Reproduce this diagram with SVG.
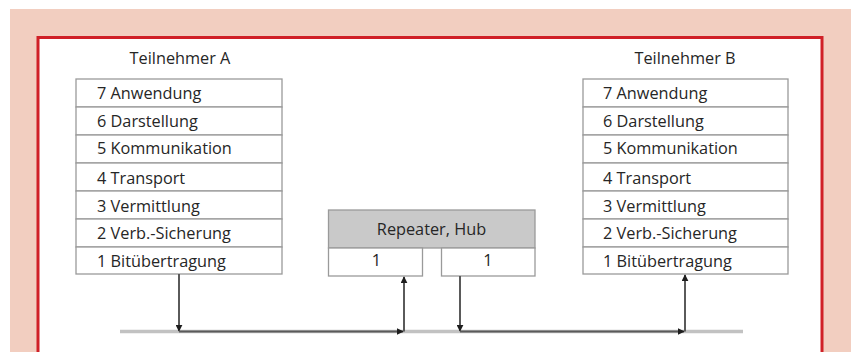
<svg xmlns="http://www.w3.org/2000/svg" width="851" height="352" viewBox="0 0 851 352">
<defs>
<style>
.t{font-family:"Open Sans","Noto Sans","Liberation Sans",sans-serif;font-size:16.3px;fill:#262626}
.c{text-anchor:middle}
.row{fill:#fff;stroke:#9a9a9a;stroke-width:1.3}
.hub{fill:#c9c9c9;stroke:#9a9a9a;stroke-width:1.3}
.bus{stroke:#c2c2c2;stroke-width:3.5;fill:none}
.ln{stroke:#5a5a5a;stroke-width:2;fill:none}
</style>
<marker id="ah" viewBox="0 0 10 10" refX="9" refY="5" markerWidth="7" markerHeight="7" markerUnits="userSpaceOnUse" orient="auto">
<path d="M0,0 L10,5 L0,10 z" fill="#1e1e1e"/>
</marker>
</defs>
<rect x="10" y="9" width="841" height="343" fill="#f2cec0"/>
<rect x="38" y="37.5" width="784" height="330" fill="#fff" stroke="#d02027" stroke-width="3"/>

<g id="teilnehmer-a">
<text class="t c" x="180" y="64">Teilnehmer A</text>
<rect class="row" x="76" y="79" width="206" height="28"/>
<rect class="row" x="76" y="107" width="206" height="28"/>
<rect class="row" x="76" y="135" width="206" height="28"/>
<rect class="row" x="76" y="163" width="206" height="28"/>
<rect class="row" x="76" y="191" width="206" height="28"/>
<rect class="row" x="76" y="219" width="206" height="28"/>
<rect class="row" x="76" y="247" width="206" height="27"/>
<text class="t" x="97" y="98.5">7 Anwendung</text>
<text class="t" x="97" y="126.5">6 Darstellung</text>
<text class="t" x="97" y="154">5 Kommunikation</text>
<text class="t" x="97" y="184">4 Transport</text>
<text class="t" x="97" y="211.5">3 Vermittlung</text>
<text class="t" x="97" y="239">2 Verb.-Sicherung</text>
<text class="t" x="97" y="266.5">1 Bitübertragung</text>
</g>

<g id="teilnehmer-b">
<text class="t c" x="685" y="64">Teilnehmer B</text>
<rect class="row" x="583" y="79" width="205" height="28"/>
<rect class="row" x="583" y="107" width="205" height="28"/>
<rect class="row" x="583" y="135" width="205" height="28"/>
<rect class="row" x="583" y="163" width="205" height="28"/>
<rect class="row" x="583" y="191" width="205" height="28"/>
<rect class="row" x="583" y="219" width="205" height="28"/>
<rect class="row" x="583" y="247" width="205" height="27"/>
<text class="t" x="603" y="98.5">7 Anwendung</text>
<text class="t" x="603" y="126.5">6 Darstellung</text>
<text class="t" x="603" y="154">5 Kommunikation</text>
<text class="t" x="603" y="184">4 Transport</text>
<text class="t" x="603" y="211.5">3 Vermittlung</text>
<text class="t" x="603" y="239">2 Verb.-Sicherung</text>
<text class="t" x="603" y="266.5">1 Bitübertragung</text>
</g>

<g id="repeater-hub">
<rect class="hub" x="328.5" y="210" width="206.5" height="38"/>
<rect class="row" x="328.5" y="248" width="94" height="28"/>
<rect class="row" x="441.5" y="248" width="93.5" height="28"/>
<text class="t c" x="431.5" y="235">Repeater, Hub</text>
<text class="t c" x="376.5" y="266">1</text>
<text class="t c" x="488" y="266">1</text>
</g>

<g id="connectors">
<line class="bus" x1="120" y1="331.5" x2="743" y2="331.5"/>
<line class="ln" x1="179" y1="274" x2="179" y2="331" marker-end="url(#ah)"/>
<line class="ln" x1="179" y1="331.5" x2="403" y2="331.5" marker-end="url(#ah)"/>
<line class="ln" x1="404" y1="331.5" x2="404" y2="277" marker-end="url(#ah)"/>
<line class="ln" x1="460" y1="276" x2="460" y2="331" marker-end="url(#ah)"/>
<line class="ln" x1="460" y1="331.5" x2="684" y2="331.5" marker-end="url(#ah)"/>
<line class="ln" x1="685" y1="331.5" x2="685" y2="275" marker-end="url(#ah)"/>
</g>
</svg>
